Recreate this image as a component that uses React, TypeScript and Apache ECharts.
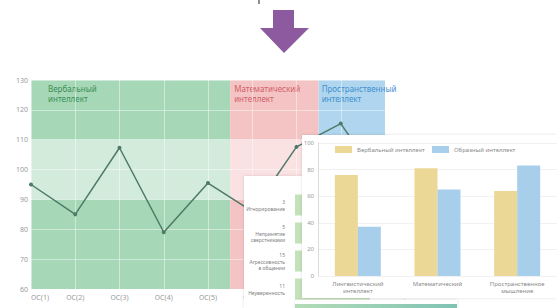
import React, { useEffect, useRef } from "react";
import * as echarts from "echarts";

// ---- line chart data ----
const lineCats = ["ОС(1)", "ОС(2)", "ОС(3)", "ОС(4)", "ОС(5)", "ОС(6)", "ОС(7)", "ОС(8)", "ОС(9)"];
const lineValues = [95, 85, 107.3, 79, 95.5, 86, 107.6, 115.4, 94];
const regionNames = ["Вербальный\nинтеллект", "Математический\nинтеллект", "Пространственный\nинтеллект"];
const regionFrom = [0, 4.5, 6.5];
const regionTo = [4.5, 6.5, 8];
const normLow = 90;
const normHigh = 110;

// ---- bar chart data ----
const barCats = ["Лингвистический\nинтеллект", "Математический", "Пространственное\nмышление"];
const barSeriesNames = ["Вербальный интеллект", "Образный интеллект"];
const barA = [76, 81, 64];
const barB = [37, 65, 83];

// ---- side list data ----
const listLabels = ["Игнорирование", "Непринятие\nсверстниками", "Агрессивность\nв общении", "Неуверенность"];
const listNums = [3, 5, 15, 11];

const FONT = "Noto Sans";

function useChart(build: () => any) {
  const ref = useRef<HTMLDivElement>(null);
  useEffect(() => {
    if (!ref.current) return;
    const c = echarts.init(ref.current, undefined, { renderer: "svg" });
    c.setOption(build());
    return () => c.dispose();
  }, []);
  return ref;
}

function lineOption() {
  const regionColors = ["#a6d7b6", "#f4c3c4", "#afd6ee"];
  const titleColors = ["#3a8f57", "#d2606a", "#3f8fcf"];
  const titleOffsets = [14, 1, 0];
  const areas: any[] = regionNames.map((n, i) => [
    {
      name: n,
      coord: [regionFrom[i], 130],
      itemStyle: { color: regionColors[i] },
      label: { show: true, position: "insideTopLeft", distance: 3, offset: [titleOffsets[i], 0], color: titleColors[i], fontSize: 8, lineHeight: 10, fontFamily: FONT },
    },
    { coord: [regionTo[i], 60] },
  ]);
  areas.push([
    { name: "", coord: [0, normHigh], itemStyle: { color: "rgba(255,255,255,0.5)" }, label: { show: false } },
    { coord: [8, normLow] },
  ]);
  return {
    animation: false,
    textStyle: { fontFamily: FONT },
    grid: { left: 31, right: 172, top: 80, bottom: 19, outerBoundsMode: "none" },
    xAxis: {
      type: "value", min: 0, max: 8, interval: 1, z: 3,
      axisLine: { show: false }, axisTick: { show: false },
      axisLabel: { formatter: (v: number) => lineCats[v] ?? "", fontSize: 7, color: "#9a9a9a", margin: 5, alignMinLabel: "left" },
      splitLine: { show: true, lineStyle: { color: "rgba(255,255,255,0.45)", width: 1 } },
    },
    yAxis: {
      type: "value", min: 60, max: 130, interval: 10, z: 3,
      axisLine: { show: false }, axisTick: { show: false },
      axisLabel: { fontSize: 7, color: "#9a9a9a", margin: 3 },
      splitLine: { lineStyle: { color: "rgba(255,255,255,0.45)", width: 1 } },
    },
    series: [
      {
        type: "line",
        data: lineValues.map((v, i) => [i, v]),
        symbol: "circle", symbolSize: 4,
        lineStyle: { color: "#4e7a67", width: 1.5 },
        itemStyle: { color: "#4e7a67" },
        markArea: { silent: true, data: areas },
      },
    ],
    graphic: [
      { type: "line", shape: { x1: 259, y1: 0, x2: 259, y2: 4 }, style: { stroke: "#222", lineWidth: 1 } },
      {
        type: "polygon",
        shape: { points: [[273, 10], [294, 10], [294, 28], [309, 28], [284, 53], [260, 28], [273, 28]] },
        style: { fill: "#8e5a9f" },
      },
    ],
  };
}

function barOption() {
  const legendBase = { itemWidth: 17, itemHeight: 7, icon: "rect", top: 11, padding: 0, textStyle: { fontSize: 6, color: "#8a8a8a", fontFamily: FONT }, itemGap: 4 };
  return {
    animation: false,
    textStyle: { fontFamily: FONT },
    grid: { left: 16, right: 0, top: 8, bottom: 22, outerBoundsMode: "none" },
    legend: [
      { ...legendBase, data: [barSeriesNames[0]], left: 33 },
      { ...legendBase, data: [barSeriesNames[1]], left: 130 },
    ],
    xAxis: {
      type: "category", data: barCats,
      axisLine: { show: false }, axisTick: { show: false },
      axisLabel: { fontSize: 6, color: "#8a8a8a", lineHeight: 7, margin: 4, interval: 0 },
    },
    yAxis: {
      type: "value", min: 0, max: 100, interval: 20,
      axisLine: { show: true, lineStyle: { color: "#dcdcdc" } }, axisTick: { show: false },
      axisLabel: { fontSize: 6, color: "#9a9a9a", margin: 4 },
      splitLine: { lineStyle: { color: "#f1f1f1" } },
    },
    series: [
      { type: "bar", name: barSeriesNames[0], data: barA, barWidth: 23, barGap: "0%", itemStyle: { color: "#ebd796" } },
      { type: "bar", name: barSeriesNames[1], data: barB, barWidth: 23, barGap: "0%", itemStyle: { color: "#a7cfec" } },
    ],
  };
}

function listOption() {
  return {
    animation: false,
    textStyle: { fontFamily: FONT },
    grid: { left: 51, right: 0, top: 15, bottom: 5, outerBoundsMode: "none" },
    xAxis: { type: "value", min: 0, max: 16, show: false },
    yAxis: {
      type: "category", inverse: true, data: listLabels,
      axisLine: { show: false }, axisTick: { show: false },
      axisLabel: {
        margin: 10, align: "right",
        formatter: (v: string, i: number) => `{n|${listNums[i]}}\n{t|${v}}`,
        rich: {
          n: { fontSize: 5, color: "#808080", lineHeight: 8, align: "right" },
          t: { fontSize: 5, color: "#808080", lineHeight: 6, align: "right" },
        },
      },
    },
    series: [{ type: "bar", data: listNums, barWidth: 21, itemStyle: { color: "#c3e2b9" } }],
  };
}

function stripOption() {
  return {
    animation: false,
    graphic: [
      {
        type: "rect", shape: { x: 0, y: 4, width: 162, height: 5 },
        style: { fill: new echarts.graphic.LinearGradient(0, 0, 1, 0, [{ offset: 0, color: "#b3dcb6" }, { offset: 1, color: "#7fc3b4" }]) },
      },
    ],
  };
}

export default function App() {
  const bgRef = useChart(lineOption);
  const listRef = useChart(listOption);
  const barRef = useChart(barOption);
  const stripRef = useChart(stripOption);
  const panel = { position: "absolute" as const, background: "#fff", boxShadow: "0 0 3px rgba(0,0,0,0.13)" };
  return (
    <div style={{ position: "fixed", left: 0, top: 0, width: 557, height: 308, background: "#fff", overflow: "hidden" }}>
      <div ref={bgRef} style={{ position: "absolute", left: 0, top: 0, width: 557, height: 308, zIndex: 0 }} />
      <div ref={listRef} style={{ ...panel, left: 244, top: 176, width: 160, height: 132, zIndex: 1 }} />
      <div ref={barRef} style={{ ...panel, left: 302, top: 135, width: 255, height: 163, zIndex: 2 }} />
      <div ref={stripRef} style={{ ...panel, left: 295, top: 300, width: 162, height: 12, zIndex: 3 }} />
    </div>
  );
}
